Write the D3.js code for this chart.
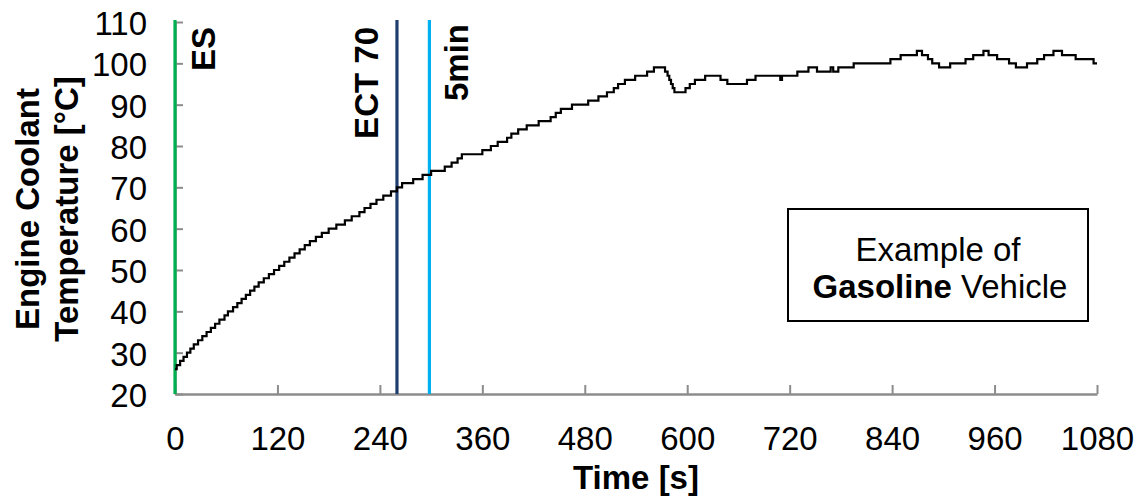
<!DOCTYPE html>
<html>
<head>
<meta charset="utf-8">
<script src="https://cdn.jsdelivr.net/npm/d3@7"></script>
<style>
  html, body { margin: 0; padding: 0; background: #ffffff; }
  svg { display: block; font-family: "Liberation Sans", Arial, sans-serif; }
</style>
</head>
<body>
<svg id="chart" width="1138" height="501"></svg>
<script>
// ---- data ----
const timeS = [0,2,6,10,14,18,22,27,32,37,42,47,52,58,62,68,73,78,83,88,93,98,104,110,116,122,128,134,140,146,152,158,165,172,180,189,199,207,216,222,229,236,244,253,260,
  266,279,290,300,316,324,331,336,360,370,378,389,394,402,412,426,440,446,452,465,484,496,506,514,519,527,539,553,561,
  574,577,579,581,583,585,598,603,609,621,639,647,670,680,709,711,729,742,752,768,771,777,795,838,850,869,875,882,887,895,908,926,935,947,953,963,977,985,998,1010,1018,1029,1039,1055,1076,1080];
const tempC = [26,27,28,29,30,31,32,33,34,35,36,37,38,39,40,41,42,43,44,45,46,47,48,49,50,51,52,53,54,55,56,57,58,59,60,61,62,63,64,65,66,67,68,69,70,
  71,72,73,74,75,76,77,78,79,80,81,82,83,84,85,86,87,88,89,90,91,92,93,94,95,96,97,98,99,
  98,97,96,95,94,93,94,95,96,97,96,95,96,97,96,97,98,99,98,99,98,99,100,101,102,103,102,101,100,99,100,101,102,103,102,101,100,99,100,101,102,103,102,101,100,100];
const xTicks = [0,120,240,360,480,600,720,840,960,1080];
const yTicks = [20,30,40,50,60,70,80,90,100,110];
const markerNames = ["ES","ECT 70","5min"];
const markerTimes = [0,260,298];
const markerColors = ["#00b050","#1f3d6e","#00b0f0"];

// ---- layout ----
const FS = 33;
const svg = d3.select("#chart");
const x = d3.scaleLinear().domain([0,1080]).range([175,1097]);
const y = d3.scaleLinear().domain([20,110]).range([394,22]);
const axisColor = "#8c8c8c";

// x axis
const gx = svg.append("g").attr("transform","translate(0,394)")
  .call(d3.axisBottom(x).tickValues(xTicks).tickFormat(d3.format("d")).tickSizeInner(-9).tickSizeOuter(0).tickPadding(33));
gx.select(".domain").attr("stroke",axisColor).attr("stroke-width",2.5);
gx.selectAll(".tick line").attr("stroke",axisColor).attr("stroke-width",2);
gx.selectAll(".tick text").attr("font-size",FS).attr("fill","#000").attr("font-family","Liberation Sans, Arial");

// y axis
const gy = svg.append("g").attr("transform","translate(175,0)")
  .call(d3.axisLeft(y).tickValues(yTicks).tickSizeInner(-8).tickSizeOuter(0).tickPadding(28));
gy.select(".domain").attr("stroke",axisColor).attr("stroke-width",2.5);
gy.selectAll(".tick line").attr("stroke",axisColor).attr("stroke-width",2);
gy.selectAll(".tick text").attr("font-size",FS).attr("fill","#000").attr("font-family","Liberation Sans, Arial")
  .attr("dy","0.38em");

// marker lines
markerTimes.forEach((t,i) => {
  svg.append("line")
    .attr("x1",x(t)).attr("x2",x(t)).attr("y1",y(20)).attr("y2",y(110)-2)
    .attr("stroke",markerColors[i]).attr("stroke-width",3.2);
});

// temperature curve
const pts = timeS.map((t,i) => [t,tempC[i]]);
svg.append("path").datum(pts)
  .attr("fill","none").attr("stroke","#000").attr("stroke-width",2.2)
  .attr("d", d3.line().x(d=>x(d[0])).y(d=>y(d[1])).curve(d3.curveStepAfter));

// marker labels
const labelX = [215,378,468];
const labelY = [27,27,24];
markerNames.forEach((n,i) => {
  svg.append("text")
    .attr("transform",`translate(${labelX[i]},${labelY[i]}) rotate(-90)`)
    .attr("text-anchor","end").attr("font-size",FS).attr("font-weight","bold").attr("fill","#000")
    .text(n);
});

// axis titles
svg.append("text")
  .attr("transform",`translate(636,489)`)
  .attr("text-anchor","middle").attr("font-size",FS).attr("font-weight","bold")
  .text("Time [s]");
svg.append("text")
  .attr("transform",`translate(39,209) rotate(-90)`)
  .attr("text-anchor","middle").attr("font-size",FS).attr("font-weight","bold")
  .text("Engine Coolant");
svg.append("text")
  .attr("transform",`translate(78,209) rotate(-90)`)
  .attr("text-anchor","middle").attr("font-size",FS).attr("font-weight","bold")
  .text("Temperature [°C]");

// annotation box
svg.append("rect").attr("x",788).attr("y",209).attr("width",300).attr("height",112)
  .attr("fill","#fff").attr("stroke","#000").attr("stroke-width",2);
svg.append("text")
  .attr("transform",`translate(938,261)`)
  .attr("text-anchor","middle").attr("font-size",FS)
  .text("Example of");
const t2 = svg.append("text")
  .attr("transform",`translate(940,298)`)
  .attr("text-anchor","middle").attr("font-size",FS);
t2.append("tspan").attr("font-weight","bold").text("Gasoline");
t2.append("tspan").text(" Vehicle");
</script>
</body>
</html>
